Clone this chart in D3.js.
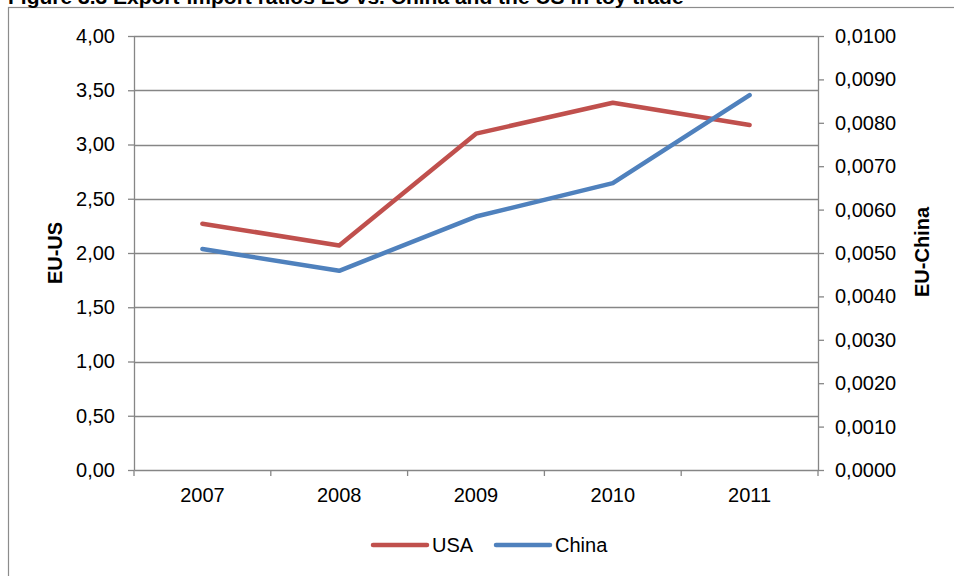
<!DOCTYPE html>
<html>
<head>
<meta charset="utf-8">
<script src="https://cdn.jsdelivr.net/npm/d3@7"></script>
<style>
  html, body { margin: 0; padding: 0; background: #fff; }
  svg { display: block; font-family: "Liberation Sans", Arial, sans-serif; }
</style>
</head>
<body>
<svg id="chart" width="954" height="576"></svg>
<script>
// Export-import ratios in toy trade
const years = ["2007", "2008", "2009", "2010", "2011"];
const usaValues = [2.27, 2.07, 3.10, 3.385, 3.18];          // EU-US (left axis)
const chinaValues = [0.00509, 0.00459, 0.00584, 0.00661, 0.00864]; // EU-China (right axis)
const leftTicks = [0, 0.5, 1, 1.5, 2, 2.5, 3, 3.5, 4];
const rightTicks = [0, 0.001, 0.002, 0.003, 0.004, 0.005, 0.006, 0.007, 0.008, 0.009, 0.01];
const seriesNames = ["USA", "China"];
const seriesColors = ["#C0504D", "#4F81BD"];

const svg = d3.select("#chart");
const margin = { left: 134, right: 818, top: 36, bottom: 470 };
const gridColor = "#868686";
const labelSize = 20;

// Outer frame and clipped title
svg.append("rect")
  .attr("x", 8.5).attr("y", 7.5)
  .attr("width", 960).attr("height", 600)
  .attr("fill", "none").attr("stroke", "#8c8c8c").attr("stroke-width", 1.2);

svg.append("text")
  .attr("x", 8).attr("y", 4)
  .attr("font-size", 21).attr("font-weight", "bold")
  .text("Figure 3.3 Export-import ratios EU vs. China and the US in toy trade");

const x = d3.scaleBand().domain(years).range([margin.left, margin.right]);
const yLeft = d3.scaleLinear().domain([0, 4]).range([margin.bottom, margin.top]);
const yRight = d3.scaleLinear().domain([0, 0.01]).range([margin.bottom, margin.top]);

const comma = (fmt) => (d) => d3.format(fmt)(d).replace(".", ",");

// Horizontal gridlines
svg.append("g").selectAll("line")
  .data(leftTicks.filter(d => d > 0))
  .join("line")
  .attr("x1", margin.left).attr("x2", margin.right)
  .attr("y1", d => Math.round(yLeft(d)) + 0.5).attr("y2", d => Math.round(yLeft(d)) + 0.5)
  .attr("stroke", gridColor).attr("stroke-width", 1.3);

function styleAxis(g) {
  g.select(".domain").attr("stroke", gridColor).attr("stroke-width", 1.3);
  g.selectAll(".tick line").attr("stroke", gridColor).attr("stroke-width", 1.3);
  g.selectAll(".tick text").attr("fill", "#000").attr("font-size", labelSize)
    .attr("font-family", "'Liberation Sans', Arial, sans-serif");
}

// Left axis
svg.append("g")
  .attr("transform", `translate(${margin.left},0)`)
  .call(d3.axisLeft(yLeft).tickValues(leftTicks).tickFormat(comma(".2f")).tickSizeInner(6).tickSizeOuter(0).tickPadding(13))
  .call(styleAxis);

// Right axis
svg.append("g")
  .attr("transform", `translate(${margin.right},0)`)
  .call(d3.axisRight(yRight).tickValues(rightTicks).tickFormat(comma(".4f")).tickSizeInner(6).tickSizeOuter(0).tickPadding(11))
  .call(styleAxis);

// Bottom axis with ticks on category boundaries
const xAxis = svg.append("g")
  .attr("transform", `translate(0,${margin.bottom})`)
  .call(d3.axisBottom(x).tickSize(0).tickPadding(18))
  .call(styleAxis);
xAxis.selectAll(".extra").data(d3.range(years.length + 1)).join("line")
  .attr("x1", i => margin.left + i * x.step()).attr("x2", i => margin.left + i * x.step())
  .attr("y1", 0).attr("y2", 6)
  .attr("stroke", gridColor).attr("stroke-width", 1.3);

// Axis titles
svg.append("text")
  .attr("transform", `translate(62,253) rotate(-90)`)
  .attr("text-anchor", "middle")
  .attr("font-size", 20).attr("font-weight", "bold")
  .text("EU-US");
svg.append("text")
  .attr("transform", `translate(929,252) rotate(-90)`)
  .attr("text-anchor", "middle")
  .attr("font-size", 20).attr("font-weight", "bold")
  .text("EU-China");

// Series lines
const cx = d => x(d) + x.bandwidth() / 2;
const usaLine = d3.line().x((d, i) => cx(years[i])).y(d => yLeft(d));
const chinaLine = d3.line().x((d, i) => cx(years[i])).y(d => yRight(d));

svg.append("path").datum(usaValues)
  .attr("d", usaLine).attr("fill", "none")
  .attr("stroke", seriesColors[0]).attr("stroke-width", 4.5)
  .attr("stroke-linejoin", "round").attr("stroke-linecap", "round");
svg.append("path").datum(chinaValues)
  .attr("d", chinaLine).attr("fill", "none")
  .attr("stroke", seriesColors[1]).attr("stroke-width", 4.5)
  .attr("stroke-linejoin", "round").attr("stroke-linecap", "round");

// Legend
const legendX = [373, 496];
const legend = svg.append("g");
seriesNames.forEach((name, i) => {
  legend.append("line")
    .attr("x1", legendX[i]).attr("x2", legendX[i] + 54)
    .attr("y1", 545).attr("y2", 545)
    .attr("stroke", seriesColors[i]).attr("stroke-width", 4.5)
    .attr("stroke-linecap", "round");
  legend.append("text")
    .attr("x", legendX[i] + 59).attr("y", 552)
    .attr("font-size", labelSize)
    .text(name);
});
</script>
</body>
</html>
